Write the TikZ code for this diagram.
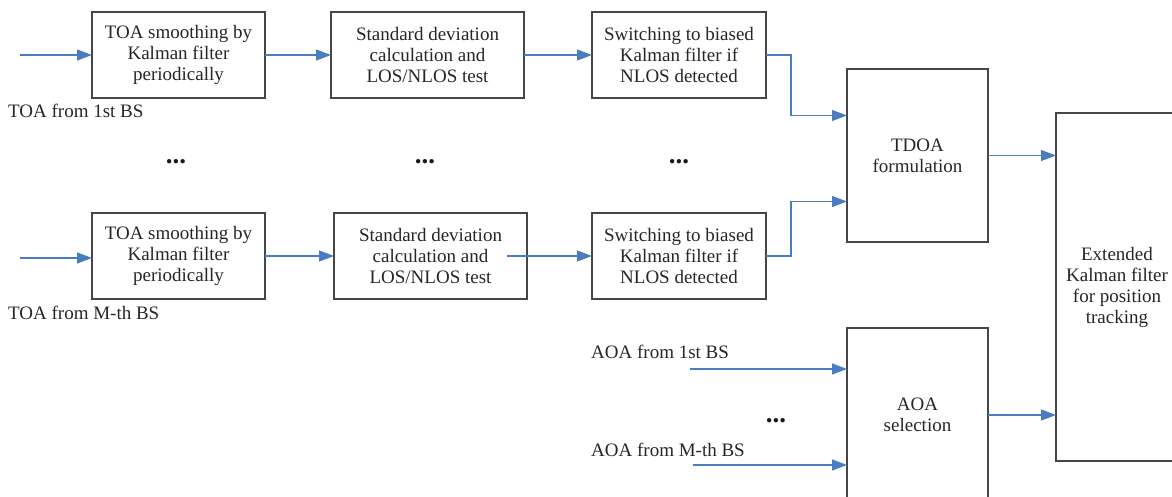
\documentclass[tikz,border=0pt]{standalone}
\usepackage{fontspec}
\setmainfont{Liberation Serif}
\usetikzlibrary{positioning, arrows.meta}
\definecolor{flowblue}{RGB}{74,124,192}
\definecolor{boxgray}{RGB}{70,70,70}

\begin{document}
\begin{tikzpicture}[x=1pt, y=-1pt,
        block/.style={rectangle, draw=boxgray, line width=1.2pt, align=center, text=black!85,
                inner sep=2pt, outer sep=0pt, minimum height=86pt, font=\fontsize{19}{21}\selectfont},
        flow/.style={draw=flowblue, line width=1.1pt, -{Triangle[length=15pt, width=11pt]}},
        note/.style={anchor=west, inner sep=0pt, text=black!85, font=\fontsize{19}{21}\selectfont},
        more/.style={inner sep=0pt, text=black!90, font=\fontsize{27}{27}\selectfont\bfseries}]
        \clip (0,0) rectangle (1172,497);

        % first base station
        \node[block, minimum width=173pt] (toa1) at (178.5,55) {TOA smoothing by\\Kalman filter\\periodically};
        \node[block, minimum width=193pt, right=66pt of toa1] (sd1) {Standard deviation\\calculation and\\LOS/NLOS test};
        \node[block, minimum width=174pt, right=68pt of sd1] (sw1) {Switching to biased\\Kalman filter if\\NLOS detected};
        \node[note] (lbl1) at (8,111) {TOA from 1st BS};
        \coordinate (in1) at (20,55);

        % M-th base station
        \node[block, minimum width=173pt] (toa2) at (178.5,256) {TOA smoothing by\\Kalman filter\\periodically};
        \node[block, minimum width=193pt, right=69pt of toa2] (sd2) {Standard deviation\\calculation and\\LOS/NLOS test};
        \node[block, minimum width=174pt, right=65pt of sd2] (sw2) {Switching to biased\\Kalman filter if\\NLOS detected};
        \node[note] (lbl2) at (8,313) {TOA from M-th BS};
        \coordinate (in2) at (20,258);

        \node[more] (m1) at (176,162) {...};
        \node[more] (m2) at (425,162) {...};
        \node[more] (m3) at (679,162) {...};

        % fusion
        \node[block, minimum width=141pt, minimum height=173pt] (tdoa) at (917.5,155.5) {TDOA\\formulation};
        \node[block, minimum width=141pt, minimum height=174pt] (aoa) at (917.5,415) {AOA\\selection};
        \node[block, minimum width=122pt, minimum height=348pt] (ekf) at (1117,287) {Extended\\Kalman filter\\for position\\tracking};

        \node[note] (albl1) at (591,352) {AOA from 1st BS};
        \node[note] (albl2) at (591,450) {AOA from M-th BS};
        \node[more] (m4) at (776,421) {...};
        \coordinate (ain1) at (690,369);
        \coordinate (ain2) at (693,465);

        % connectors
        \draw[flow] (in1) -- (toa1);
        \draw[flow] (toa1) -- (sd1);
        \draw[flow] (sd1) -- (sw1);
        \draw[flow] (in2) -- (toa2.west|-in2);
        \draw[flow] (toa2) -- (sd2);
        \draw[flow] ([xshift=-20pt]sd2.east) -- (sw2);
        \draw[flow] (sw1.east) -- ++(25,0) |- ([yshift=40pt]tdoa.west);
        \draw[flow] (sw2.east) -- ++(25,0) |- ([yshift=-46pt]tdoa.west);
        \draw[flow] (ain1) -- (aoa.west|-ain1);
        \draw[flow] (ain2) -- (aoa.west|-ain2);
        \draw[flow] (tdoa.east) -- (ekf.west|-tdoa.east);
        \draw[flow] (aoa.east) -- (ekf.west|-aoa.east);
\end{tikzpicture}
\end{document}
